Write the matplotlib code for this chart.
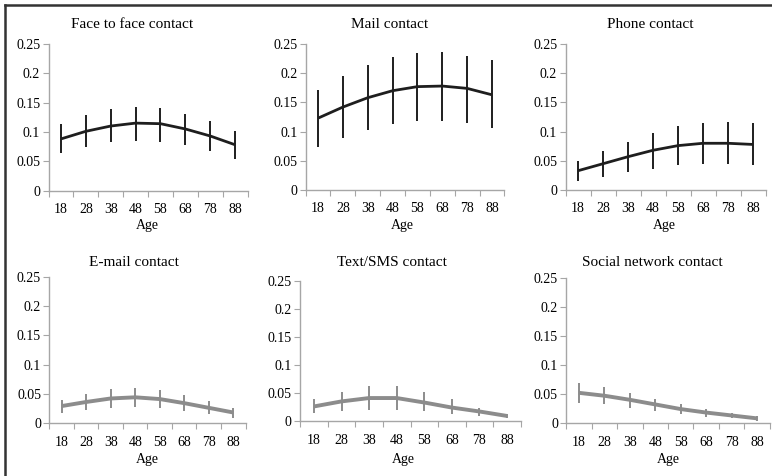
import numpy as np
import matplotlib
matplotlib.use("Agg")
import matplotlib.pyplot as plt
from matplotlib.lines import Line2D

plt.rcParams['font.family'] = ['Liberation Serif', 'DejaVu Serif']

ages = ['18', '28', '38', '48', '58', '68', '78', '88']
ytick_vals = [0, 0.05, 0.1, 0.15, 0.2, 0.25]
ytick_labels = ['0', '0.05', '0.1', '0.15', '0.2', '0.25']

titles = ['Face to face contact', 'Mail contact', 'Phone contact',
          'E-mail contact', 'Text/SMS contact', 'Social network contact']

# predicted probability, lower and upper bound of the interval
face_mean = [0.088, 0.101, 0.110, 0.115, 0.114, 0.105, 0.093, 0.078]
face_low = [0.064, 0.074, 0.082, 0.085, 0.083, 0.078, 0.067, 0.054]
face_high = [0.113, 0.128, 0.139, 0.143, 0.141, 0.131, 0.118, 0.101]

mail_mean = [0.123, 0.142, 0.158, 0.170, 0.177, 0.178, 0.174, 0.163]
mail_low = [0.073, 0.089, 0.103, 0.113, 0.118, 0.119, 0.115, 0.107]
mail_high = [0.172, 0.195, 0.214, 0.227, 0.234, 0.236, 0.230, 0.222]

phone_mean = [0.033, 0.045, 0.057, 0.068, 0.076, 0.080, 0.080, 0.078]
phone_low = [0.016, 0.023, 0.030, 0.036, 0.042, 0.045, 0.045, 0.042]
phone_high = [0.050, 0.066, 0.083, 0.098, 0.110, 0.115, 0.117, 0.114]

email_mean = [0.029, 0.036, 0.042, 0.044, 0.041, 0.034, 0.026, 0.018]
email_low = [0.017, 0.022, 0.026, 0.028, 0.025, 0.020, 0.015, 0.009]
email_high = [0.040, 0.050, 0.058, 0.060, 0.056, 0.048, 0.037, 0.026]

sms_mean = [0.026, 0.035, 0.041, 0.041, 0.033, 0.024, 0.017, 0.009]
sms_low = [0.014, 0.017, 0.020, 0.020, 0.017, 0.012, 0.009, 0.005]
sms_high = [0.039, 0.052, 0.062, 0.062, 0.052, 0.039, 0.024, 0.012]

social_mean = [0.052, 0.047, 0.040, 0.032, 0.024, 0.018, 0.013, 0.008]
social_low = [0.035, 0.032, 0.026, 0.021, 0.016, 0.011, 0.008, 0.004]
social_high = [0.069, 0.062, 0.052, 0.042, 0.032, 0.024, 0.017, 0.012]

series = [(face_mean, face_low, face_high), (mail_mean, mail_low, mail_high),
          (phone_mean, phone_low, phone_high), (email_mean, email_low, email_high),
          (sms_mean, sms_low, sms_high), (social_mean, social_low, social_high)]

W, H = 772, 476
fig = plt.figure(figsize=(W / 100, H / 100), dpi=100)

# panel boxes in pixels: left, right, top(0.25), bottom(0)
boxes = [(48.5, 247.6, 44, 190.5), (305.6, 504.4, 44, 190), (565.5, 765.5, 44, 190),
         (49.4, 245.5, 277, 423), (300.2, 520.8, 281, 421), (566.3, 769.7, 278, 423)]
title_pos = [(132, 25), (390, 25), (650, 25), (134, 263), (392, 262), (652, 262)]
age_pos = [(147, 225), (402, 225), (664, 226), (147, 459), (403, 459), (668, 460)]

x = np.arange(len(ages)) + 0.5
axis_col = '#a6a6a6'

for i, (mean, low, high) in enumerate(series):
    l, r, t, b = boxes[i]
    ax = fig.add_axes([l / W, 1 - b / H, (r - l) / W, (b - t) / H])
    if i < 3:
        col, lw, elw = '#1e1e1e', 2.0, 1.4
    else:
        col, lw, elw = '#8c8c8c', 2.8, 1.4
    mean = np.array(mean)
    yerr = [mean - np.array(low), np.array(high) - mean]
    ax.errorbar(x, mean, yerr=yerr, fmt='none', ecolor=col, elinewidth=elw, capsize=0)
    ax.plot(x, mean, color=col, lw=lw, solid_capstyle='butt')

    ax.set_xlim(0, len(ages))
    ax.set_ylim(0, 0.25)
    ax.set_xticks(np.arange(len(ages) + 1))
    ax.set_xticklabels([])
    ax.set_xticks(x, minor=True)
    ax.set_xticklabels(ages, minor=True)
    ax.set_yticks(ytick_vals)
    ax.set_yticklabels(ytick_labels)
    ax.tick_params(axis='both', which='major', direction='out', length=4,
                   color=axis_col, labelsize=10, pad=2)
    ax.tick_params(axis='x', which='minor', length=0, labelsize=10, pad=9)
    for s in ['top', 'right']:
        ax.spines[s].set_visible(False)
    for s in ['left', 'bottom']:
        ax.spines[s].set_color(axis_col)
        ax.spines[s].set_linewidth(1.0)
    ax.patch.set_visible(False)

    tx, ty = title_pos[i]
    fig.text(tx / W, 1 - ty / H, titles[i], ha='center', va='center', fontsize=11)
    axx, axy = age_pos[i]
    fig.text(axx / W, 1 - axy / H, 'Age', ha='center', va='center', fontsize=10)

# frame lines along top and left edge
fig.add_artist(Line2D([5 / W, 1], [1 - 5 / H, 1 - 5 / H], color='#333333', lw=1.8))
fig.add_artist(Line2D([5 / W, 5 / W], [1 - 5 / H, 0], color='#333333', lw=1.8))

fig.savefig('out.png', dpi=100)
